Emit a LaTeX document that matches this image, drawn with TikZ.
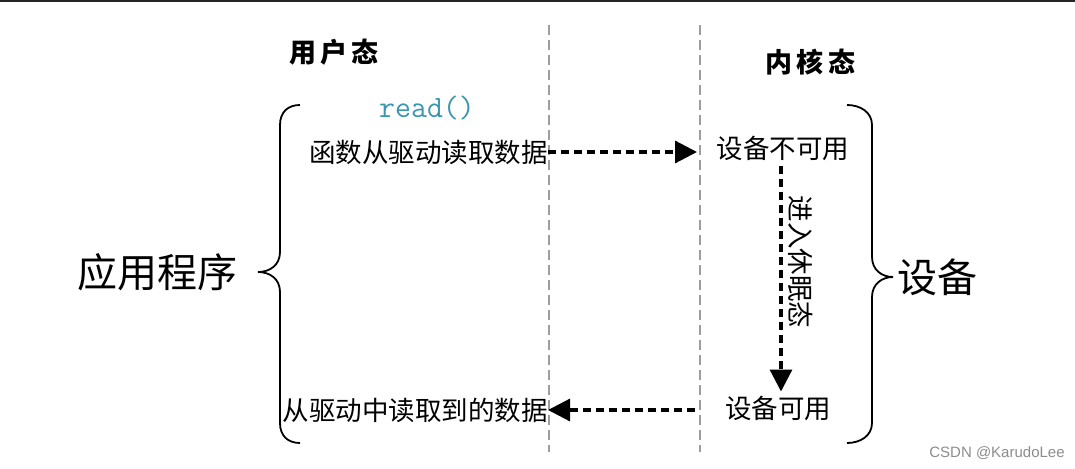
\documentclass[tikz,border=0pt]{standalone}
\usepackage{fontspec}
\newfontfamily\cjk{Noto Sans CJK SC}
\newfontfamily\wmfont{Liberation Sans}
\usetikzlibrary{arrows.meta,positioning}
\definecolor{readc}{RGB}{60,150,175}

\begin{document}
\begin{tikzpicture}[x=1pt,y=-1pt,
	txt/.style={font=\cjk\fontsize{26.5}{26.5}\selectfont, inner sep=0pt},
	big/.style={font=\cjk\fontsize{40}{40}\selectfont, inner sep=0pt},
	hd/.style={font=\cjk\bfseries\fontsize{27}{27}\selectfont, inner sep=0pt},
	flow/.style={line width=3.2pt, dash pattern=on 8pt off 5pt, -{Triangle[length=22pt,width=22pt]}},
	sep/.style={black!38, line width=2.8pt, dash pattern=on 10pt off 5pt},
	brace/.style={line width=1.8pt}]
	
	\useasboundingbox (0,0) rectangle (1075,468);
	\draw[black!85, line width=2.5pt] (0,1) -- (1075,1);
	
	%separators
	\coordinate (ut) at (549,25); \coordinate (ub) at (549,452);
	\coordinate (kt) at (700,25); \coordinate (kb) at (700,452);
	\draw[sep] (ut) -- (ub);
	\draw[sep] (kt) -- (kb);
	
	\node[hd] (user) at (334,52) {用\,户\,态};
	\node[hd] (kern) at (810,62) {内\,核\,态};
	\node[font=\ttfamily\fontsize{31}{31}\selectfont, text=readc, inner sep=0pt] (rd) at (427,108) {read()};
	\node[txt, anchor=east] (call) at (548,152) {函数从驱动读取数据};
	\node[txt] (busy) at (783,148) {设备不可用};
	\node[txt, rotate=-90] (sleep) at (801,262) {进入休眠态};
	\node[txt] (ready) at (778,408) {设备可用};
	\node[txt, anchor=east] (got) at (548,410) {从驱动中读取到的数据};
	
	\draw[flow, shorten >=3pt] (call.east) -- (call.east -| kt);
	\draw[flow, shorten <=6pt, shorten >=4pt] ([xshift=-2pt]busy.south) -- ([xshift=-2pt]busy.south |- ready.north);
	\draw[flow] ([xshift=-5pt]got.east -| kt) -- (got.east);
	
	%braces
	\draw[brace] (300,105) .. controls (288,105) and (280,112) .. (280,125) -- (280,252)
	  .. controls (280,265) and (270,272) .. (258,272) .. controls (270,272) and (280,279) .. (280,292)
	  -- (280,423) .. controls (280,436) and (288,443) .. (300,443);
	\draw[brace] (847,105) .. controls (860,105) and (872,112) .. (872,125) -- (872,257)
	  .. controls (872,270) and (882,277) .. (893,277) .. controls (882,277) and (872,284) .. (872,297)
	  -- (872,423) .. controls (872,436) and (860,443) .. (847,443);
	\node[big] (app) at (157,272) {应用程序};
	\node[big] (dev) at (937,277) {设备};
	
	\node[font=\wmfont\fontsize{15}{15}\selectfont, text=black!45, inner sep=0pt] (wm) at (997,453) {CSDN @KarudoLee};
\end{tikzpicture}
\end{document}
